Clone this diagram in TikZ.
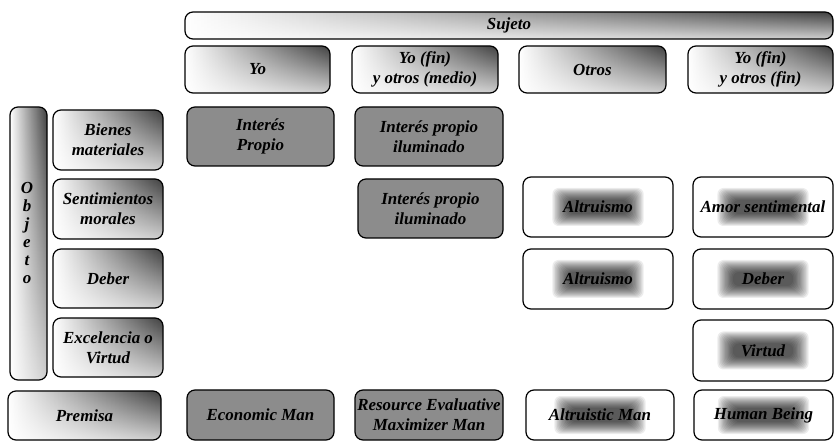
\documentclass[tikz,border=0pt]{standalone}
\usepackage{fontspec}
\setmainfont{Liberation Serif}
\usetikzlibrary{fadings}
\tikzfading[name=fadeup, top color=transparent!100, bottom color=transparent!25]
\tikzset{
  box/.style={draw=black, rounded corners=8bp, line width=1.2bp, inner sep=0pt, outer sep=0pt,
    align=center, font=\bfseries\itshape\fontsize{17}{20}\selectfont},
  gradbox/.style={box, left color=white, middle color=black!6, right color=black!75,
    path picture={\fill[white, path fading=fadeup] (path picture bounding box.south west) rectangle (path picture bounding box.north east);}},
  darkbox/.style={box, fill=black!45},
  glowbox/.style={box, fill=white, path picture={
      \foreach \k in {0,...,12}{
        \fill[black, opacity=0.075, rounded corners=6bp]
          ([xshift={-(30+1.3*\k)*1bp}, yshift={-(7+1*\k)*1bp}]path picture bounding box.center)
          rectangle ([xshift={(30+1.3*\k)*1bp}, yshift={(7+1*\k)*1bp}]path picture bounding box.center);
      }}},
  sz/.style 2 args={minimum width=#1bp, minimum height=#2bp}
}
\begin{document}
\begin{tikzpicture}[x=1bp,y=-1bp]
\useasboundingbox[fill=white] (0,0) rectangle (834,442);
% column headers
\node[gradbox, sz={648}{27}] (sujeto) at (509,25.5) {Sujeto};
\node[gradbox, sz={145}{47}] (hyo) at (257.5,69.5) {Yo};
\node[gradbox, sz={146}{47}] (hmedio) at (425,69.5) {Yo (fin)\\y otros (medio)};
\node[gradbox, sz={147}{47}] (hotros) at (592.5,69.5) {Otros};
\node[gradbox, sz={145}{47}] (hfin) at (760.5,69.5) {Yo (fin)\\y otros (fin)};
% row headers
\node[gradbox, sz={37}{273}] (objeto) at (28.5,243.5) {};
\node[font=\bfseries\itshape\fontsize{17}{18}\selectfont, align=center, inner sep=0pt] (objtxt) at (27,233) {O\\b\\j\\e\\t\\o};
\node[gradbox, sz={110}{60}] (bienes) at (108,140) {Bienes\\materiales};
\node[gradbox, sz={110}{60}] (sentim) at (108,209) {Sentimientos\\morales};
\node[gradbox, sz={110}{59}] (deber) at (108,278.5) {Deber};
\node[gradbox, sz={110}{59}] (excel) at (108,347.5) {Excelencia o\\Virtud};
\node[gradbox, sz={153}{49}] (premisa) at (84.5,415.5) {Premisa};
% cells
\node[darkbox, sz={147}{59}] (ip) at (260.5,136.5) {Interés\\Propio};
\node[darkbox, sz={148}{59}] (ipi1) at (429,136.5) {Interés propio\\iluminado};
\node[darkbox, sz={145}{59}] (ipi2) at (430.5,208.5) {Interés propio\\iluminado};
\node[glowbox, sz={150}{60}] (alt2) at (598,207) {Altruismo};
\node[glowbox, sz={140}{60}] (amor) at (763,207) {Amor sentimental};
\node[glowbox, sz={150}{60}] (alt3) at (598,279) {Altruismo};
\node[glowbox, sz={140}{60}] (deber3) at (763,279) {Deber};
\node[glowbox, sz={140}{61}] (virtud) at (763,350.5) {Virtud};
% premises
\node[darkbox, sz={147}{50}] (econ) at (260.5,415) {Economic Man};
\node[darkbox, sz={148}{50}] (remm) at (429,415) {Resource Evaluative\\Maximizer Man};
\node[glowbox, sz={148}{50}] (altman) at (600,415) {Altruistic Man};
\node[glowbox, sz={139}{50}] (human) at (763.5,415) {Human Being};
\end{tikzpicture}
\end{document}
